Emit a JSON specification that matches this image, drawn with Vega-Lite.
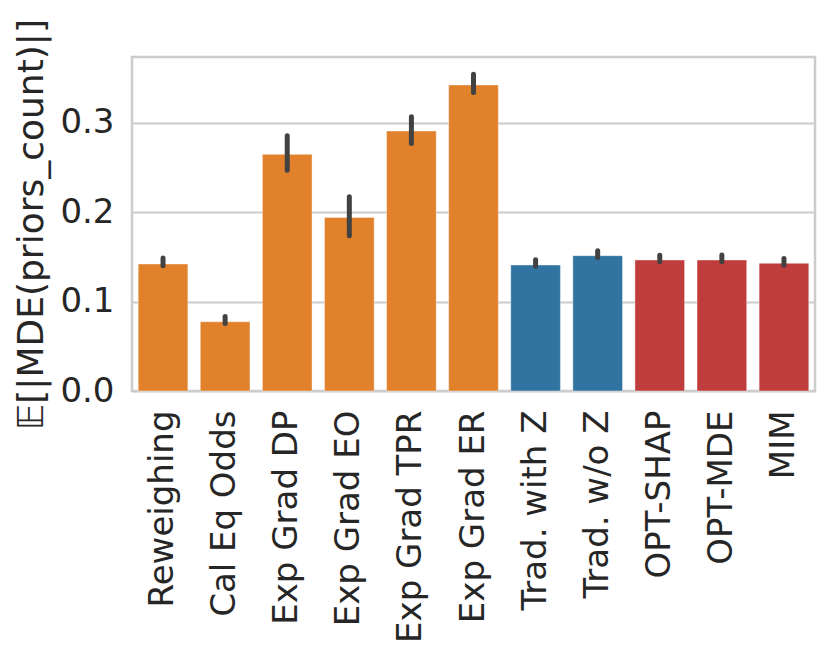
{
  "$schema": "https://vega.github.io/schema/vega-lite/v6.json",
  "autosize": "none",
  "width": 683,
  "height": 334,
  "padding": {"left": 132, "top": 57, "right": 15, "bottom": 265},
  "background": "white",
  "config": {
    "font": "DejaVu Sans",
    "view": {"stroke": "#cccccc", "strokeWidth": 2.5},
    "axis": {"labelFont": "DejaVu Sans", "titleFont": "DejaVu Sans", "labelColor": "#262626", "titleColor": "#262626", "domain": false, "ticks": false, "gridColor": "#cccccc", "gridWidth": 2}
  },
  "data": {
    "values": [
      {"method": "Reweighing", "group": "baseline", "mean": 0.1419, "lo": 0.1400, "hi": 0.1486},
      {"method": "Cal Eq Odds", "group": "baseline", "mean": 0.0774, "lo": 0.0754, "hi": 0.0832},
      {"method": "Exp Grad DP", "group": "baseline", "mean": 0.2644, "lo": 0.2467, "hi": 0.2851},
      {"method": "Exp Grad EO", "group": "baseline", "mean": 0.1940, "lo": 0.1734, "hi": 0.2170},
      {"method": "Exp Grad TPR", "group": "baseline", "mean": 0.2905, "lo": 0.2765, "hi": 0.3064},
      {"method": "Exp Grad ER", "group": "baseline", "mean": 0.3419, "lo": 0.3335, "hi": 0.3540},
      {"method": "Trad. with Z", "group": "trad", "mean": 0.1408, "lo": 0.1394, "hi": 0.1466},
      {"method": "Trad. w/o Z", "group": "trad", "mean": 0.1512, "lo": 0.1492, "hi": 0.1566},
      {"method": "OPT-SHAP", "group": "opt", "mean": 0.1464, "lo": 0.1444, "hi": 0.1517},
      {"method": "OPT-MDE", "group": "opt", "mean": 0.1464, "lo": 0.1444, "hi": 0.1521},
      {"method": "MIM", "group": "opt", "mean": 0.1427, "lo": 0.1406, "hi": 0.1480}
    ]
  },
  "encoding": {
    "x": {
      "field": "method",
      "type": "nominal",
      "sort": null,
      "scale": {"paddingInner": 0.2, "paddingOuter": 0.1},
      "axis": {"title": null, "labelAngle": -90, "labelFontSize": 34, "labelPadding": 19, "grid": false, "labelLimit": 400}
    }
  },
  "layer": [
    {
      "mark": {"type": "bar", "stroke": "#ffffff", "strokeOpacity": 0.4, "strokeWidth": 1},
      "encoding": {
        "y": {
          "field": "mean",
          "type": "quantitative",
          "scale": {"domain": [0, 0.3732], "nice": false, "zero": true},
          "axis": {"title": "𝔼[|MDE(priors_count)|]", "values": [0, 0.1, 0.2, 0.3], "format": ".1f", "labelFontSize": 34, "labelPadding": 18, "titleFontSize": 36, "titleFontWeight": "normal", "titlePadding": 9, "grid": true}
        },
        "color": {
          "field": "group",
          "type": "nominal",
          "scale": {"domain": ["baseline", "trad", "opt"], "range": ["#e1812c", "#3274a1", "#c03d3e"]},
          "legend": null
        }
      }
    },
    {
      "mark": {"type": "rule", "color": "#424242", "strokeWidth": 5, "strokeCap": "round"},
      "encoding": {
        "y": {"field": "lo", "type": "quantitative"},
        "y2": {"field": "hi"}
      }
    }
  ]
}
